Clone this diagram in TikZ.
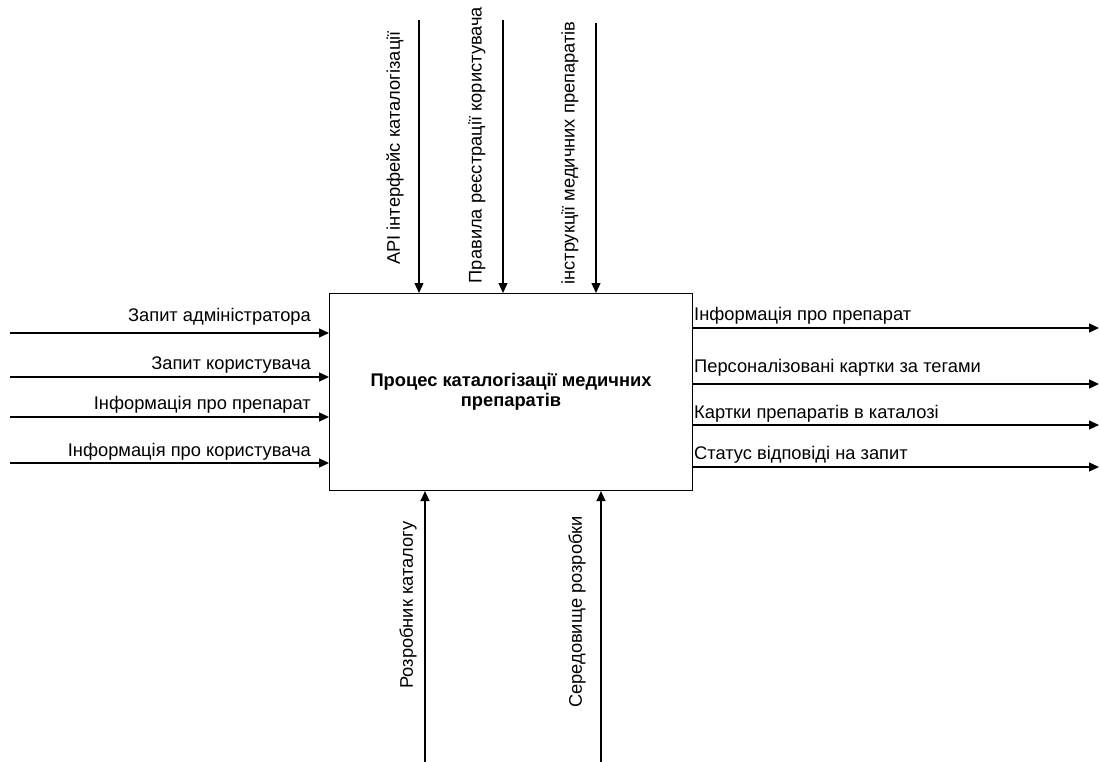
\documentclass[tikz,border=0pt]{standalone}
\usepackage{fontspec}
\setmainfont{Liberation Sans}
\usetikzlibrary{arrows.meta}
\begin{document}
\begin{tikzpicture}[x=1pt,y=-1pt,
  flow/.style={line width=1.3pt,-{Triangle[length=10pt,width=9pt]}},
  lbl/.style={font=\fontsize{18.3}{21}\selectfont,inner sep=0pt},
  vlbl/.style={lbl,rotate=90,anchor=center}]
\useasboundingbox[fill=white] (0,0) rectangle (1100,762);

% the process box
\node[draw,line width=1.1pt,minimum width=363pt,minimum height=197pt,inner sep=0pt,anchor=north west,
      font=\bfseries\fontsize{18.3}{20}\selectfont,align=center] (proc) at (329,293)
  {Процес каталогізації медичних\\препаратів};

% inputs (left)
\coordinate (i1) at (10,333);
\coordinate (i2) at (10,377);
\coordinate (i3) at (10,417);
\coordinate (i4) at (10,463);
\draw[flow] (i1) -- (i1 -| proc.west);
\draw[flow] (i2) -- (i2 -| proc.west);
\draw[flow] (i3) -- (i3 -| proc.west);
\draw[flow] (i4) -- (i4 -| proc.west);
\node[lbl,anchor=base east] (li1) at (311,321) {Запит адміністратора};
\node[lbl,anchor=base east] (li2) at (311,369) {Запит користувача};
\node[lbl,anchor=base east] (li3) at (311,409) {Інформація про препарат};
\node[lbl,anchor=base east] (li4) at (311,456) {Інформація про користувача};

% outputs (right)
\coordinate (o1) at (1099,328);
\coordinate (o2) at (1099,384);
\coordinate (o3) at (1099,425);
\coordinate (o4) at (1099,467);
\draw[flow] (o1 -| proc.east) -- (o1);
\draw[flow] (o2 -| proc.east) -- (o2);
\draw[flow] (o3 -| proc.east) -- (o3);
\draw[flow] (o4 -| proc.east) -- (o4);
\node[lbl,anchor=base west] (lo1) at (694,320) {Інформація про препарат};
\node[lbl,anchor=base west] (lo2) at (694,372) {Персоналізовані картки за тегами};
\node[lbl,anchor=base west] (lo3) at (694,418) {Картки препаратів в каталозі};
\node[lbl,anchor=base west] (lo4) at (694,459) {Статус відповіді на запит};

% controls (top)
\coordinate (c1) at (419,20);
\coordinate (c2) at (503,20);
\coordinate (c3) at (596,23);
\draw[flow] (c1) -- (c1 |- proc.north);
\draw[flow] (c2) -- (c2 |- proc.north);
\draw[flow] (c3) -- (c3 |- proc.north);
\node[vlbl] (lc1) at (395,148) {API інтерфейс каталогізації};
\node[vlbl] (lc2) at (477,145) {Правила реєстрації користувача};
\node[vlbl] (lc3) at (570,153) {інструкції медичних препаратів};

% mechanisms (bottom)
\coordinate (m1) at (425,762);
\coordinate (m2) at (601,762);
\draw[flow] (m1) -- (m1 |- proc.south);
\draw[flow] (m2) -- (m2 |- proc.south);
\node[vlbl] (lm1) at (408,605) {Розробник каталогу};
\node[vlbl] (lm2) at (577,612) {Середовище розробки};
\end{tikzpicture}
\end{document}
